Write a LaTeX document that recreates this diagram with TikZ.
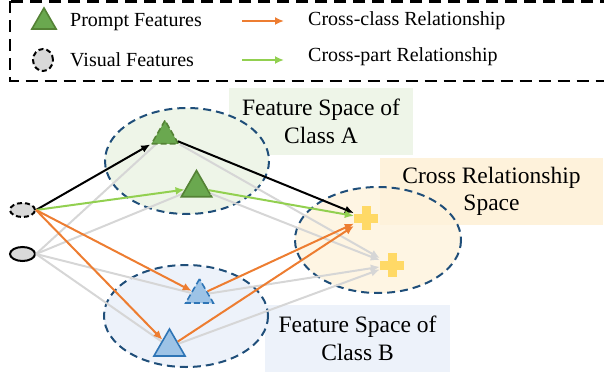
\documentclass[tikz,border=0pt]{standalone}
\usepackage{fontspec}
\setmainfont{Liberation Serif}
\usetikzlibrary{shapes.geometric,arrows.meta}
\definecolor{ellblue}{HTML}{1F4E79}
\definecolor{greenbg}{HTML}{EEF5E8}
\definecolor{bluebg}{HTML}{EDF2FA}
\definecolor{yellowbg}{HTML}{FEF5E3}
\definecolor{yellowbox}{HTML}{FEF2DB}
\definecolor{trigreen}{HTML}{6AA84F}
\definecolor{trigreendark}{HTML}{548235}
\definecolor{triblue}{HTML}{9DC3E6}
\definecolor{tribluedark}{HTML}{2E75B6}
\definecolor{plusc}{HTML}{FFD966}
\definecolor{orangec}{HTML}{ED7D31}
\definecolor{lgreen}{HTML}{92D050}
\definecolor{grayc}{HTML}{D6D6D6}
\definecolor{visgray}{HTML}{D9D9D9}
\begin{document}
\begin{tikzpicture}[x=1pt,y=-1pt,
  ellborder/.style={draw=ellblue, dash pattern=on 8pt off 5pt, line width=2pt},
  trig/.style={regular polygon, regular polygon sides=3, inner sep=0pt, line width=1.6pt},
  gtri/.style={trig, fill=trigreen, draw=trigreendark},
  btri/.style={trig, fill=triblue, draw=tribluedark},
  tridash/.style={dash pattern=on 6pt off 3pt},
  vis/.style={ellipse, draw=black, line width=2pt, fill=visgray, minimum width=25pt, minimum height=14pt, inner sep=0pt},
  visdash/.style={dash pattern=on 5pt off 3pt},
  plusnode/.style={minimum size=24pt, inner sep=0pt},
  arr/.style={-{Latex[length=9pt,width=8pt]}, line width=2pt},
  grayline/.style={draw=grayc, line width=2pt},
  labelbox/.style={inner sep=0pt, minimum height=67pt, align=center, font=\fontsize{23.5}{27.5}\selectfont},
  legtext/.style={anchor=west, inner sep=0pt, font=\fontsize{20}{24}\selectfont}
]
\useasboundingbox (0,0) rectangle (604,377);

% legend
\draw[line width=2.6pt, dash pattern=on 12pt off 7pt] (10,1.5) rectangle (640,81);
\node[gtri, minimum size=28pt] (lgtri) at (44,22) {};
\node[legtext] (ltp) at (70,22) {Prompt Features};
\node[vis, visdash, minimum width=20pt, minimum height=22pt] (lvis) at (43,60) {};
\node[legtext] (ltv) at (70,60) {Visual Features};
\coordinate (lo1) at (242,21);
\coordinate (lo2) at (284,21);
\coordinate (lg1) at (242,60);
\coordinate (lg2) at (284,60);
\draw[arr, draw=orangec] (lo1) -- (lo2);
\draw[arr, draw=lgreen] (lg1) -- (lg2);
\node[legtext] (ltc) at (308,21) {Cross-class Relationship};
\node[legtext] (ltpart) at (308,57) {Cross-part Relationship};

% ellipse fills
\fill[greenbg] (187,161) ellipse [x radius=82, y radius=53];
\fill[bluebg] (186,316) ellipse [x radius=82, y radius=51];
\fill[yellowbg] (378,240) ellipse [x radius=83, y radius=53];

% label boxes
\node[labelbox, fill=greenbg, minimum width=184pt] (boxA) at (321,121.5) {Feature Space of\\Class A};
\node[labelbox, fill=yellowbox, minimum width=223pt] (boxC) at (491.5,191.5) {Cross Relationship\\Space};
\node[labelbox, fill=bluebg, minimum width=185pt] (boxB) at (357.5,338.5) {Feature Space of\\Class B};

% ellipse borders
\draw[ellborder] (187,161) ellipse [x radius=82, y radius=53];
\draw[ellborder] (186,316) ellipse [x radius=82, y radius=51];
\draw[ellborder] (378,240) ellipse [x radius=83, y radius=53];

% node placeholders (positions)
\node[vis, visdash] (v1) at (22.5,210) {};
\node[vis] (v2) at (22.5,254) {};
\coordinate (a1c) at (165,136);
\coordinate (a2c) at (196.5,188);
\coordinate (b1c) at (199.5,295);
\coordinate (b2c) at (169.5,347);
\node[plusnode] (p1) at (366,218) {};
\node[plusnode] (p2) at (392,265) {};

% gray lines from v2
\draw[grayline] (v2.east) -- (a1c);
\draw[grayline] (v2.east) -- (a2c);
\draw[grayline] (v2.east) -- (b1c);
\draw[grayline] (v2.east) -- (b2c);

% triangles
\node[gtri, tridash, minimum size=31pt] (a1) at (a1c) {};
\node[gtri, minimum size=35pt] (a2) at (a2c) {};
\node[btri, tridash, minimum size=32pt] (b1) at (b1c) {};
\node[btri, minimum size=36pt] (b2) at (b2c) {};

% gray arrows to p2
\draw[arr, grayline] (a1) -- (p2);
\draw[arr, grayline] (a2) -- (p2);
\draw[arr, grayline] (b1) -- (p2);
\draw[arr, grayline] (b2) -- (p2);

% colored arrows
\draw[arr, draw=black] (v1.east) -- (a1);
\draw[arr, draw=black] (a1) -- (p1);
\draw[arr, draw=lgreen] (v1.east) -- (a2);
\draw[arr, draw=lgreen] (a2) -- (p1);
\draw[arr, draw=orangec] (v1.east) -- (b1);
\draw[arr, draw=orangec] (v1.east) -- (b2);
\draw[arr, draw=orangec] (b1) -- (p1);
\draw[arr, draw=orangec] (b2) -- (p1);

% pluses
\foreach \p in {p1,p2} {
  \fill[plusc] ([xshift=-4.5pt]\p.north) rectangle ([xshift=4.5pt]\p.south);
  \fill[plusc] ([yshift=-4.5pt]\p.west) rectangle ([yshift=4.5pt]\p.east);
}
\end{tikzpicture}
\end{document}
